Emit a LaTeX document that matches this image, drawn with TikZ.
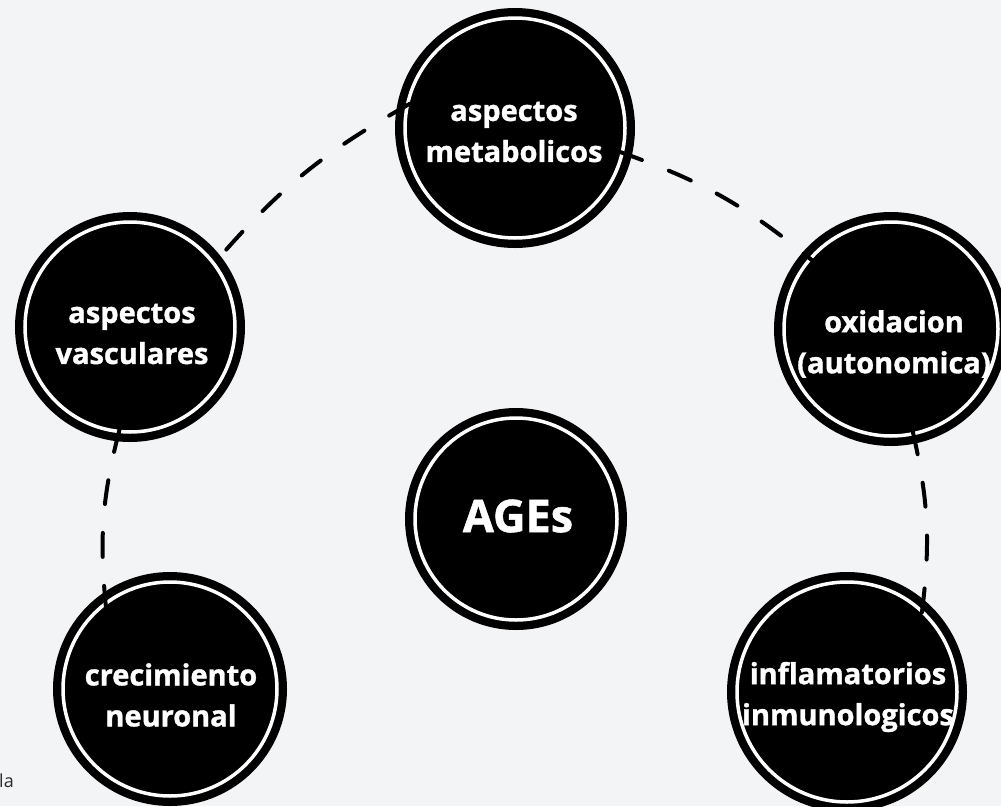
\documentclass[tikz,border=0pt]{standalone}
\usepackage{fontspec}
\setmainfont{Open Sans}[BoldFeatures={FakeBold=1.2}]
\definecolor{paper}{HTML}{F3F4F6}
\definecolor{note}{HTML}{2B2B2B}
\tikzset{
  % black disc with a thin white ring just inside its rim
  hub/.style={circle, inner sep=0pt, outer sep=0pt, minimum size=#1,
    fill=black, draw=white, line width=3.5pt,
    preaction={draw=black, line width=20pt}},
  caption/.style={text=white, inner sep=0pt, align=center,
    font=\bfseries\fontsize{29}{41}\selectfont},
  bigcaption/.style={text=white, inner sep=0pt,
    font=\bfseries\fontsize{45}{50}\selectfont},
  link/.style={draw=black, line width=4pt, line cap=round,
    dash pattern=on 24pt off 29pt, shorten <=-3pt, shorten >=-3pt},
}
\begin{document}
\begin{tikzpicture}[x=1pt,y=-1pt]
\fill[paper] (0,0) rectangle (1001,806);
\useasboundingbox (0,0) rectangle (1001,806);

% discs
\node[hub=220pt] (metab) at (515,128) {};
\node[hub=210pt] (vasc)  at (130,327) {};
\node[hub=214pt] (oxid)  at (891,329) {};
\node[hub=202pt] (ages)  at (516,519) {};
\node[hub=214pt] (neuro) at (170,689) {};
\node[hub=220pt] (infl)  at (847,692) {};

% dashed links around the centre
\draw[link] (metab.168) to[bend right=10] (vasc.37);
\draw[link] (metab.-13) to[bend left=10]  (oxid.139);
\draw[link] (vasc.-96)  to[bend right=10] (neuro.127);
\draw[link] (oxid.-78)  to[bend left=10]  (infl.47);

% captions
\node[caption] (metabT) at (514,132) {aspectos\\metabolicos};
\node[caption] (vascT)  at (132,334) {aspectos\\vasculares};
\node[caption] (oxidT)  at (894,344) {oxidacion\\(autonomica)};
\node[bigcaption] (agesT) at (518,516) {AGEs};
\node[caption] (neuroT) at (171,695) {crecimiento\\neuronal};
\node[caption] (inflT)  at (848,697) {inflamatorios\\inmunologicos};

\node[anchor=base west, inner sep=0pt, text=note,
  font=\fontsize{18}{20}\selectfont] (la) at (-1,787) {la};
\end{tikzpicture}
\end{document}
